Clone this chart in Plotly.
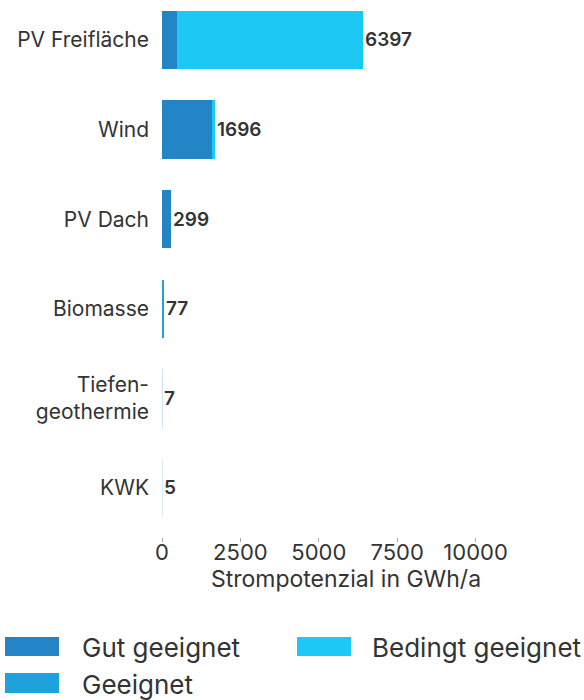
import plotly.graph_objects as go

categories = ["PV Freifläche", "Wind", "PV Dach", "Biomasse", "Tiefen-<br>geothermie", "KWK"]
gut_geeignet = [480, 1590, 299, 0, 7, 5]
geeignet = [0, 0, 0, 77, 0, 0]
bedingt_geeignet = [5917, 106, 0, 0, 0, 0]
totals = [6397, 1696, 299, 77, 7, 5]
x_ticks = [0, 2500, 5000, 7500, 10000]

series_names = ["Gut geeignet", "Geeignet", "Bedingt geeignet"]
colors = ["#2384C6", "#1FA2DC", "#1BC9F4"]

FONT = "Inter"
TXT = "#333333"
W, H = 584, 700
ML, MR, MT, MB = 162, 54, 0, 163
PW = W - ML - MR
PH = H - MT - MB
PX_PER_UNIT = 78.4 / 2500

fig = go.Figure()
for name, vals, col in zip(series_names, [gut_geeignet, geeignet, bedingt_geeignet], colors):
    # sub-pixel bars drawn with matching faintness (as anti-aliasing would)
    op = [min(1.0, v * PX_PER_UNIT) for v in vals]
    fig.add_trace(go.Bar(
        y=categories, x=vals, name=name, orientation="h",
        marker=dict(color=col, opacity=op, line=dict(width=0)), showlegend=False,
        hoverinfo="x+name",
    ))

for c, t in zip(categories, totals):
    fig.add_annotation(x=t, y=c, text=str(t), xref="x", yref="y",
                       xanchor="left", yanchor="middle", showarrow=False, xshift=0,
                       font=dict(family=FONT, size=19, color=TXT, weight=600))

# custom legend (wide swatches)
def px2x(p):
    return (p - ML) / PW

def px2y(p):
    return (PH + MT - p) / PH

legend_items = [
    ("Gut geeignet", colors[0], 5, 59, 637, 656, 80, 647),
    ("Bedingt geeignet", colors[2], 297, 351, 637, 656, 370, 647),
    ("Geeignet", colors[1], 5, 59, 673, 693, 80, 684),
]
for name, col, x0, x1, y0, y1, tx, ty in legend_items:
    fig.add_shape(type="rect", xref="paper", yref="paper",
                  x0=px2x(x0), x1=px2x(x1), y0=px2y(y1), y1=px2y(y0),
                  fillcolor=col, line=dict(width=0))
    fig.add_annotation(xref="paper", yref="paper", x=px2x(tx), y=px2y(ty),
                       text=name, showarrow=False, xanchor="left", yanchor="middle",
                       font=dict(family=FONT, size=26, color=TXT))

fig.update_layout(
    width=W, height=H,
    margin=dict(l=ML, r=MR, t=MT, b=MB, autoexpand=False),
    barmode="stack", bargap=0.35,
    plot_bgcolor="white", paper_bgcolor="white",
    font=dict(family=FONT, color=TXT, size=21),
    xaxis=dict(range=[0, PW / PX_PER_UNIT], tickvals=x_ticks, ticktext=[str(v) for v in x_ticks],
               automargin=False,
               showgrid=False, zeroline=False, showline=False,
               ticks="outside", ticklen=4, tickcolor="#aaaaaa",
               ticklabelstandoff=-8,
               tickfont=dict(family=FONT, size=22, color=TXT),
               title=dict(text="Strompotenzial in GWh/a", standoff=0,
                          font=dict(family=FONT, size=23, color=TXT))),
    yaxis=dict(categoryorder="array", categoryarray=categories, automargin=False,
               range=[5.547, -0.446], showgrid=False, zeroline=False, showline=False,
               ticks="", ticklabelstandoff=12,
               tickfont=dict(family=FONT, size=21, color=TXT)),
)

fig.write_html("out.html", config={"displayModeBar": False},
               post_script="document.body.style.margin='0';")
